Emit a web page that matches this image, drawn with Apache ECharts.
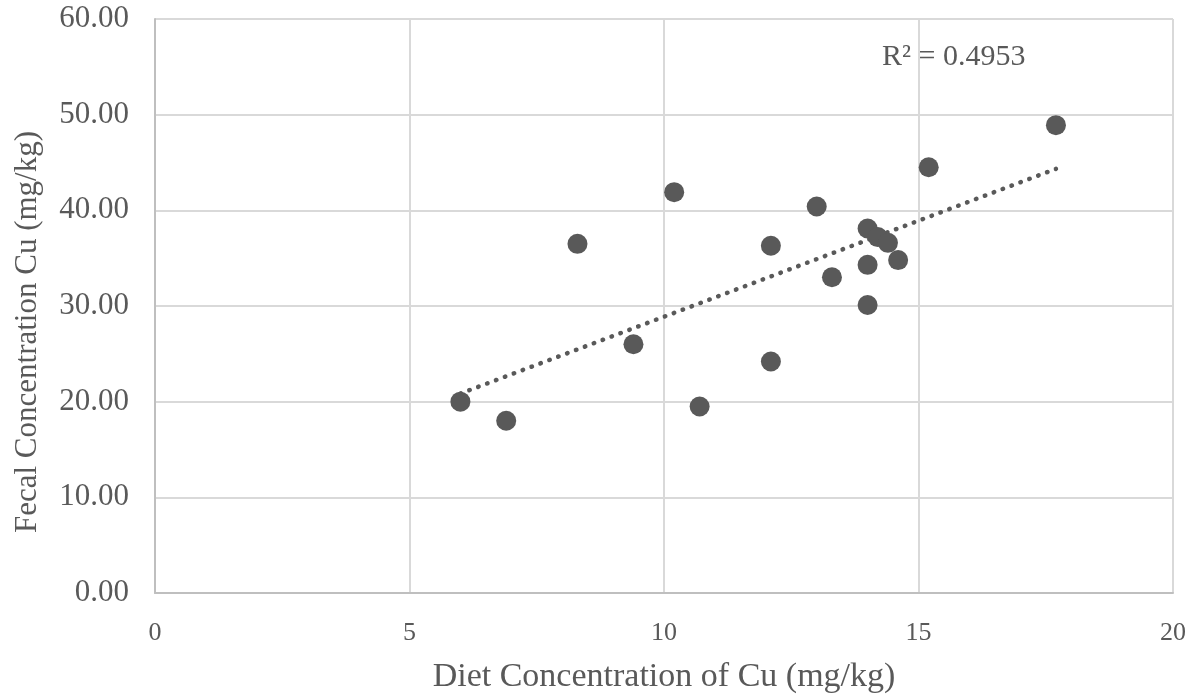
<!DOCTYPE html>
<html>
<head>
<meta charset="utf-8">
<script src="https://cdn.jsdelivr.net/npm/echarts@6/dist/echarts.min.js"></script>
<style>html,body{margin:0;padding:0;background:#fff;}#c{width:1195px;height:700px;}</style>
</head>
<body>
<div id="c"></div>
<script>
var dietCu = [6.0, 6.9, 8.3, 9.4, 10.2, 10.7, 12.1, 12.1, 13.0, 13.3, 14.0, 14.0, 14.0, 14.2, 14.4, 14.6, 15.2, 17.7];
var fecalCu = [20.0, 18.0, 36.5, 26.0, 41.9, 19.5, 36.3, 24.2, 40.4, 33.0, 38.1, 34.3, 30.1, 37.2, 36.6, 34.8, 44.5, 48.9];
var r2Label = 'R² = 0.4953';

var pts = dietCu.map(function(x, i){ return [x, fecalCu[i]]; });
// least-squares trendline from the data
var n = dietCu.length, sx = 0, sy = 0, sxx = 0, sxy = 0;
for (var i = 0; i < n; i++) { sx += dietCu[i]; sy += fecalCu[i]; sxx += dietCu[i]*dietCu[i]; sxy += dietCu[i]*fecalCu[i]; }
var slope = (n*sxy - sx*sy) / (n*sxx - sx*sx);
var icpt = (sy - slope*sx) / n;
var xmin = Math.min.apply(null, dietCu), xmax = Math.max.apply(null, dietCu);
var trend = [[xmin, icpt + slope*xmin], [xmax, icpt + slope*xmax]];

var chart = echarts.init(document.getElementById('c'));
var font = 'Liberation Serif';
chart.setOption({
  animation: false,
  backgroundColor: '#ffffff',
  grid: { left: 155, right: 22, top: 19, bottom: 107, containLabel: false, outerBoundsMode: 'none' },
  xAxis: {
    type: 'value', min: 0, max: 20, interval: 5,
    name: 'Diet Concentration of Cu (mg/kg)', nameLocation: 'middle', nameGap: 67,
    nameTextStyle: { fontFamily: font, fontSize: 34, color: '#595959' },
    axisLine: { show: true, lineStyle: { color: '#bfbfbf', width: 2 } },
    axisTick: { show: false },
    axisLabel: { fontFamily: font, fontSize: 26, color: '#595959', margin: 27 },
    splitLine: { show: true, lineStyle: { color: '#d9d9d9', width: 2 } }
  },
  yAxis: {
    type: 'value', min: 0, max: 60, interval: 10,
    name: 'Fecal Concentration Cu (mg/kg)', nameLocation: 'middle', nameGap: 112,
    nameTextStyle: { fontFamily: font, fontSize: 31, color: '#595959', padding: [0, 52, 0, 0] },
    axisLine: { show: true, lineStyle: { color: '#bfbfbf', width: 2 } },
    axisTick: { show: false },
    axisLabel: { fontFamily: font, fontSize: 31, color: '#595959', margin: 26,
      formatter: function(v){ return v.toFixed(2); } },
    splitLine: { show: true, lineStyle: { color: '#d9d9d9', width: 2 } }
  },
  series: [
    {
      type: 'line', data: trend, symbol: 'none', silent: true, z: 1,
      lineStyle: { color: '#595959', width: 4.5, type: [0.5, 9], cap: 'round' }
    },
    {
      type: 'scatter', data: pts, symbol: 'circle', symbolSize: 20, z: 2,
      itemStyle: { color: '#595959', opacity: 1 }
    }
  ],
  graphic: [{
    type: 'text', left: 882, top: 42,
    style: { text: r2Label, fontFamily: font, fontSize: 30, fill: '#595959' }
  }]
});
</script>
</body>
</html>
